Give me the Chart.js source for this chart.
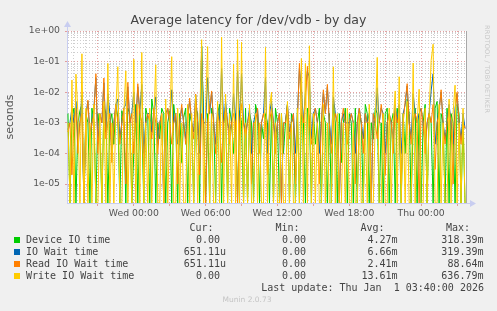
<!DOCTYPE html>
<html>
<head>
<meta charset="utf-8">
<script src="https://cdn.jsdelivr.net/npm/chart.js@4.4.1/dist/chart.umd.min.js"></script>
<style>
  body { margin: 0; background: #f0f0f0; }
  #wrap { position: relative; width: 497px; height: 311px; overflow: hidden; background: #f0f0f0; font-family: "DejaVu Sans", sans-serif; }
  #chart { position: absolute; left: 0; top: 0; }
  .t { position: absolute; white-space: pre; line-height: 12px; }
  .mono { font-family: "DejaVu Sans Mono", monospace; font-size: 10px; color: #444; }
  .sw { position: absolute; width: 6px; height: 6px; }
  #title { left: 0; width: 497px; top: 13px; text-align: center; font-size: 12.5px; line-height: 14px; color: #444; }
  #wm { right: 6px; top: 25px; writing-mode: vertical-rl; font-size: 6.5px; line-height: 8px; color: #c8c8c8; letter-spacing: 0.2px; }
  #munin { left: 0; width: 494px; top: 295px; text-align: center; font-size: 7.5px; line-height: 10px; color: #c4c4c4; }
</style>
</head>
<body>
<div id="wrap">
  <canvas id="chart" width="497" height="311"></canvas>
  <div id="title" class="t">Average latency for /dev/vdb - by day</div>
  <div id="wm" class="t">RRDTOOL / TOBI OETIKER</div>
  <div id="munin" class="t">Munin 2.0.73</div>
</div>
<script>
// series names and colours
const seriesNames = ['Device IO time', 'IO Wait time', 'Read IO Wait time', 'Write IO Wait time'];
const seriesColors = ['#00cc00', '#0066b3', '#ff8000', '#ffcc00'];

// time axis: hours relative to Wed 00:00, one sample every 10 minutes
const startHour = -5.5;
const stepHour = 1 / 6;
const xMin = -5.58;
const xMax = 27.83;
const xLabelHours = [0, 6, 12, 18, 24];
const xLabels = ['Wed 00:00', 'Wed 06:00', 'Wed 12:00', 'Wed 18:00', 'Thu 00:00'];

// y axis (seconds, log)
const yMin = 2.4e-6;
const yMax = 1;
const yLabelValues = [1, 1e-1, 1e-2, 1e-3, 1e-4, 1e-5];
const yLabels = ['1e+00', '1e-01', '1e-02', '1e-03', '1e-04', '1e-05'];

// values in seconds
const deviceIO = [
  2e-3, 0, 1.5e-3, 3e-3, 0, 1e-3, 2.5e-3, 4e-3, 0, 2e-3, 1e-3, 0, 3e-3, 1.2e-3, 0, 2e-3, 5e-4, 0, 3.5e-3, 2e-3,
  0, 1e-3, 2e-3, 2e-4, 4e-3, 1.5e-3, 0, 2.5e-3, 1e-3, 0, 3e-3, 2e-3, 0, 1e-4, 4e-3, 0, 2e-3, 1e-3, 0, 3e-3,
  1.5e-3, 0, 6e-3, 2e-3, 0, 1e-3, 3e-4, 3e-3, 2e-3, 0, 1e-3, 2.5e-3, 0, 4e-3, 1e-3, 0, 2e-3, 5e-5, 1.5e-3, 3e-3,
  0, 2e-3, 1e-3, 0, 3e-3, 2e-3, 0, 0.318, 1e-3, 0, 2e-3, 0, 3e-3, 1.5e-3, 0, 2e-3, 4e-3, 0, 1e-3, 2e-3,
  0, 3e-3, 1e-3, 1e-4, 2e-3, 0, 2.5e-3, 1e-3, 0, 3e-3, 0, 2e-3, 1e-3, 0, 4e-3, 2e-3, 0, 1e-3, 3e-4, 2e-3,
  1e-3, 0, 2e-3, 0, 3e-3, 1e-3, 0, 2e-3, 1e-4, 1e-3, 4e-3, 0, 2e-3, 1e-3, 0, 3e-3, 0, 2e-3, 1e-3, 0,
  3e-3, 1.5e-3, 0, 2e-3, 2e-4, 1e-3, 3e-3, 0, 2e-3, 1e-3, 0, 2e-3, 0, 4e-3, 1e-3, 0, 2e-3, 5e-5, 1e-3, 3e-3,
  0, 2e-3, 1e-3, 0, 3e-3, 0, 2e-3, 1e-3, 0, 4e-3, 2e-3, 0, 1e-3, 3e-4, 3e-3, 2e-3, 0, 1e-3, 0, 2e-3,
  3e-3, 0, 1e-3, 2e-3, 0, 3e-3, 1e-3, 0, 2e-3, 1e-4, 6e-3, 2e-3, 0, 1e-3, 3e-3, 0, 2e-3, 0, 1e-3, 4e-3,
  0, 2e-3, 1e-3, 0, 3e-3, 5e-3, 0, 2e-3, 1e-3, 0, 3e-3, 0, 2e-3, 1e-3, 0, 4e-3, 2e-3, 0, 1e-3, 0
];
const ioWait = [
  6e-4, 1e-3, 3e-3, 1e-3, 5e-3, 3e-4, 1e-3, 8e-3, 0, 2e-3, 5e-3, 5e-4, 1e-3, 3e-3, 0.03, 2e-4, 2e-3, 1e-3, 0.02, 5e-4,
  9e-3, 2e-3, 1e-4, 1e-3, 4e-3, 6e-3, 3e-4, 1e-3, 3e-3, 4e-3, 0.015, 1e-3, 2e-3, 0.01, 1e-3, 0.015, 2e-3, 0.018, 1e-4, 1e-3,
  2e-3, 2e-3, 5e-4, 2e-3, 7e-3, 2e-4, 1e-3, 2e-3, 0, 2e-3, 3e-3, 1e-3, 0.012, 1e-3, 2e-3, 2e-4, 1e-3, 3e-3, 1e-3, 3e-4,
  2e-3, 5e-3, 1e-3, 5e-4, 8e-3, 1e-3, 1e-4, 0.319, 1e-3, 1e-3, 0.03, 2e-3, 0.01, 1e-3, 2e-4, 3e-3, 1e-3, 0.06, 1e-3, 5e-3,
  1e-3, 5e-4, 1e-3, 9e-3, 1e-3, 0.05, 1e-3, 0.04, 1e-3, 5e-4, 1e-3, 3e-3, 1e-4, 1e-3, 2e-3, 3e-3, 3e-4, 1e-3, 2e-3, 0.03,
  1e-4, 2e-3, 5e-3, 1e-3, 3e-4, 1e-3, 2e-3, 0, 1e-3, 1e-3, 4e-3, 5e-4, 1e-3, 2e-3, 1e-4, 2e-3, 0.06, 0.013, 1e-3, 0.01,
  0.05, 0.03, 3e-4, 2e-3, 3e-3, 1e-3, 1e-4, 1e-3, 0.01, 2e-3, 0.015, 1e-3, 2e-4, 7e-3, 2e-3, 1e-3, 0, 1e-3, 2e-3, 1e-3,
  1e-3, 1e-3, 2e-3, 1e-3, 1e-4, 1e-3, 3e-3, 1e-3, 3e-4, 2e-3, 1e-3, 2e-3, 0, 2e-3, 1e-3, 0.014, 1e-3, 3e-3, 2e-3, 1e-4,
  1e-3, 2e-3, 1e-3, 3e-4, 4e-3, 1e-3, 4e-3, 1e-4, 2e-3, 4e-3, 0.016, 1e-3, 3e-4, 9e-3, 2e-3, 1e-3, 2e-3, 3e-3, 1e-3, 2e-4,
  1e-3, 2e-3, 0.011, 0.04, 2e-4, 1e-3, 3e-3, 0.01, 1e-3, 3e-4, 1e-3, 4e-3, 1e-3, 2e-4, 3e-3, 9e-3, 1e-3, 3e-4, 2e-3, 6.5111e-4
];
const readWait = [
  5e-4, 1e-3, 2e-5, 1e-3, 3e-3, 1e-4, 1e-3, 2e-3, 0, 1e-3, 0.0055, 3e-4, 1e-3, 2e-3, 0.04, 1e-4, 2e-3, 1e-3, 0.029, 3e-4,
  1e-3, 2e-3, 5e-5, 1e-3, 4e-3, 1e-3, 2e-4, 1e-3, 3e-3, 1e-5, 0.021, 1e-3, 2e-3, 1e-4, 1e-3, 0.019, 2e-3, 1e-3, 3e-5, 1e-3,
  2e-3, 1e-3, 3e-4, 3e-3, 1e-3, 1e-4, 1e-3, 2e-3, 0, 1e-3, 3e-3, 1e-3, 2e-4, 1e-3, 2e-3, 1e-5, 1e-3, 4e-3, 1e-3, 2e-4,
  1e-3, 0.0064, 1e-3, 3e-4, 0.0087, 1e-3, 2e-5, 2e-3, 1e-3, 0, 1e-3, 3e-3, 0.011, 1e-3, 1e-4, 2e-3, 1e-3, 5e-5, 1e-3, 3e-3,
  1e-3, 2e-4, 1e-3, 2e-3, 1e-3, 0, 1e-3, 4e-3, 1e-3, 3e-4, 1e-3, 2e-3, 1e-5, 1e-3, 1e-3, 3e-3, 1e-4, 1e-3, 2e-3, 1e-3,
  2e-5, 1e-3, 3e-3, 1e-3, 1e-4, 1e-3, 2e-3, 0, 1e-3, 1e-3, 4e-3, 3e-4, 1e-3, 2e-3, 1e-5, 1e-3, 0.0886, 2e-3, 1e-3, 5e-3,
  0.07, 1e-3, 2e-4, 1e-3, 3e-3, 1e-3, 1e-5, 1e-3, 0.012, 2e-3, 0.018, 1e-3, 1e-4, 1e-3, 2e-3, 1e-3, 0, 1e-3, 3e-3, 1e-3,
  2e-4, 1e-3, 2e-3, 1e-3, 1e-5, 1e-3, 3e-3, 1e-3, 1e-4, 2e-3, 1e-3, 1e-3, 0, 2e-3, 1e-3, 3e-4, 1e-3, 4e-3, 1e-3, 2e-5,
  1e-3, 2e-3, 1e-3, 1e-4, 3e-3, 1e-3, 2e-3, 1e-5, 1e-3, 5e-3, 0.019, 1e-3, 2e-4, 1e-3, 2e-3, 1e-3, 0, 3e-3, 1e-3, 1e-4,
  1e-3, 2e-3, 1e-3, 4e-3, 3e-5, 1e-3, 2e-3, 0.012, 1e-3, 2e-4, 1e-3, 3e-3, 1e-3, 1e-5, 2e-3, 0.01, 1e-3, 2e-4, 1e-3, 6.5111e-4
];
const writeWait = [
  1e-3, 0, 0.025, 0, 0.039, 2e-3, 0, 0.18, 0, 3e-3, 0, 1e-3, 0, 4e-3, 0, 0, 2e-3, 0, 5e-3, 0,
  0.087, 0, 1e-3, 0, 3e-3, 0.068, 0, 0, 2e-3, 0.05, 0, 1e-3, 0, 0.12, 0, 4e-3, 0, 0.2, 0, 1e-3,
  0, 3e-3, 0, 1e-3, 0.079, 0, 0, 2e-3, 0, 6e-3, 0, 1e-3, 0.145, 0, 0, 3e-3, 0, 1e-3, 0, 0,
  4e-3, 0, 2e-3, 0, 8e-3, 0, 1e-3, 0.52, 0, 3e-3, 0.31, 0, 2e-3, 0, 0, 5e-3, 0, 0.637, 0, 0.0087,
  0, 2e-3, 0, 0.083, 0, 0.52, 0, 0.43, 0, 1e-3, 0, 4e-3, 0, 0, 2e-3, 0, 1e-3, 0, 0, 0.29,
  0, 3e-3, 0.01, 0, 1e-3, 0, 0, 2e-3, 0, 0, 5e-3, 0, 1e-3, 0, 0, 3e-3, 0, 0.126, 0, 0.087,
  0, 0.33, 0, 2e-3, 0, 1e-3, 0, 0, 4e-3, 0, 1e-3, 0, 0, 0.068, 0, 2e-3, 0, 0, 1e-3, 0,
  3e-3, 0, 0, 1e-3, 0, 0, 2e-3, 0, 0, 1e-3, 0, 4e-3, 0, 0, 1e-3, 0.137, 0, 0, 2e-3, 0,
  0, 3e-3, 0, 1e-3, 0.011, 0, 0.032, 0, 2e-3, 0, 5e-3, 0, 0, 0.09, 0, 1e-3, 0.0125, 0, 0, 3e-3,
  0, 2e-3, 0.107, 0.37, 0, 0, 4e-3, 0, 1e-3, 0, 0, 6e-3, 0, 2e-3, 0.017, 0, 1e-3, 0, 3e-3, 0
];

// legend table (as printed by munin)
const curVals = ['0.00 ', '651.11u', '651.11u', '0.00 '];
const minVals = ['0.00 ', '0.00 ', '0.00 ', '0.00 '];
const avgVals = ['4.27m', '6.66m', '2.41m', '13.61m'];
const maxVals = ['318.39m', '319.39m', '88.64m', '636.79m'];
const lastUpdate = 'Last update: Thu Jan  1 03:40:00 2026';

const axisColor = '#c8cdf0';
const majorGrid = 'rgba(220,130,130,0.75)';
const minorGrid = 'rgba(190,190,190,0.75)';

function isDecade(v) {
  const l = Math.log10(v);
  return Math.abs(l - Math.round(l)) < 1e-9;
}

function toPoints(vals) {
  // zero values sit on the bottom edge like in rrdtool
  return vals.map((v, i) => ({ x: startHour + i * stepHour, y: v > 0 ? v : yMin }));
}

const allSeries = [deviceIO, ioWait, readWait, writeWait];
const datasets = allSeries.map((vals, k) => ({
  label: seriesNames[k],
  data: toPoints(vals),
  borderColor: seriesColors[k],
  backgroundColor: seriesColors[k],
  borderWidth: 1,
  pointRadius: 0,
  tension: 0,
  order: 4 - k
}));

const decor = {
  id: 'decor',
  beforeDraw(chart) {
    const { ctx, chartArea: a } = chart;
    ctx.save();
    ctx.fillStyle = '#ffffff';
    ctx.fillRect(a.left, a.top, a.right - a.left, a.bottom - a.top);
    ctx.restore();
  },
  afterDraw(chart) {
    const { ctx, chartArea: a } = chart;
    ctx.save();
    ctx.lineWidth = 1;
    // right frame line
    ctx.strokeStyle = '#a8a8a8';
    ctx.beginPath();
    ctx.moveTo(a.right - 0.5, a.top);
    ctx.lineTo(a.right - 0.5, a.bottom);
    ctx.stroke();
    // axis extensions and arrows
    ctx.strokeStyle = axisColor;
    ctx.fillStyle = axisColor;
    ctx.beginPath();
    ctx.moveTo(a.left + 0.5, a.top);
    ctx.lineTo(a.left + 0.5, a.top - 4);
    ctx.moveTo(a.right, a.bottom + 0.5);
    ctx.lineTo(a.right + 3, a.bottom + 0.5);
    ctx.stroke();
    ctx.beginPath();
    ctx.moveTo(a.left - 3, a.top - 4);
    ctx.lineTo(a.left + 0.5, a.top - 10);
    ctx.lineTo(a.left + 4, a.top - 4);
    ctx.closePath();
    ctx.fill();
    ctx.beginPath();
    ctx.moveTo(a.right + 3, a.bottom - 3);
    ctx.lineTo(a.right + 9, a.bottom + 0.5);
    ctx.lineTo(a.right + 3, a.bottom + 4);
    ctx.closePath();
    ctx.fill();
    ctx.restore();
  }
};

const axisFont = { family: 'DejaVu Sans', size: 9.3 };

new Chart(document.getElementById('chart').getContext('2d'), {
  type: 'line',
  data: { datasets: datasets },
  plugins: [decor],
  options: {
    responsive: false,
    animation: false,
    events: [],
    layout: { padding: { left: 0, top: 31, right: 30, bottom: 0 } },
    plugins: {
      legend: { display: false },
      tooltip: { enabled: false },
      title: { display: false }
    },
    scales: {
      x: {
        type: 'linear',
        min: xMin,
        max: xMax,
        afterBuildTicks: s => {
          const t = [];
          for (let h = Math.ceil(xMin); h <= Math.floor(xMax); h++) t.push({ value: h });
          s.ticks = t;
        },
        afterFit: s => { s.height = 108; },
        ticks: {
          autoSkip: false,
          maxRotation: 0,
          minRotation: 0,
          padding: 2,
          color: '#555',
          font: axisFont,
          callback: v => {
            const j = xLabelHours.indexOf(v);
            return j >= 0 ? xLabels[j] : '';
          }
        },
        grid: {
          color: c => (c.tick && c.tick.value % 3 === 0) ? majorGrid : minorGrid,
          tickColor: c => (c.tick && c.tick.value % 3 === 0) ? majorGrid : 'rgba(0,0,0,0)',
          tickLength: 3,
          lineWidth: 1
        },
        border: { display: true, color: axisColor, dash: [1, 2] }
      },
      y: {
        type: 'logarithmic',
        min: yMin,
        max: yMax,
        afterBuildTicks: s => {
          const t = [];
          for (let e = -6; e <= 0; e++) {
            for (let m = 1; m <= 9; m++) {
              const v = m * Math.pow(10, e);
              if (v >= yMin && v <= yMax * 1.0001) t.push({ value: v });
            }
          }
          s.ticks = t;
        },
        afterFit: s => { s.width = 67; },
        title: {
          display: true,
          text: 'seconds',
          color: '#555',
          font: { family: 'DejaVu Sans', size: 11 },
          padding: { top: 4, bottom: 0 }
        },
        ticks: {
          autoSkip: false,
          padding: 5,
          color: '#555',
          font: axisFont,
          callback: v => {
            for (let j = 0; j < yLabelValues.length; j++) {
              if (Math.abs(v / yLabelValues[j] - 1) < 1e-6) return yLabels[j];
            }
            return '';
          }
        },
        grid: {
          color: c => (c.tick && isDecade(c.tick.value)) ? majorGrid : minorGrid,
          tickColor: c => (c.tick && isDecade(c.tick.value)) ? majorGrid : 'rgba(0,0,0,0)',
          tickLength: 2,
          lineWidth: 1
        },
        border: { display: true, color: axisColor, dash: [1, 2] }
      }
    }
  }
});

// legend table below the plot
const wrap = document.getElementById('wrap');
function addText(txt, cls, left, right, centerY) {
  const d = document.createElement('div');
  d.className = 't ' + cls;
  d.textContent = txt;
  d.style.top = (centerY - 6) + 'px';
  if (left !== null) d.style.left = left + 'px';
  if (right !== null) { d.style.right = (497 - right) + 'px'; d.style.textAlign = 'right'; }
  wrap.appendChild(d);
}
const headY = 227.7;
addText('Cur:', 'mono', null, 213.5, headY);
addText('Min:', 'mono', null, 299.5, headY);
addText('Avg:', 'mono', null, 384.5, headY);
addText('Max:', 'mono', null, 470, headY);
seriesNames.forEach((name, k) => {
  const cy = 239.7 + k * 12;
  const sw = document.createElement('div');
  sw.className = 'sw';
  sw.style.left = '14px';
  sw.style.top = (cy - 3) + 'px';
  sw.style.background = seriesColors[k];
  wrap.appendChild(sw);
  addText(name, 'mono', 26, null, cy);
  addText(curVals[k], 'mono', null, 226, cy);
  addText(minVals[k], 'mono', null, 312, cy);
  addText(avgVals[k], 'mono', null, 397.5, cy);
  addText(maxVals[k], 'mono', null, 483.5, cy);
});
addText(lastUpdate, 'mono', null, 484, 287.7);
</script>
</body>
</html>
